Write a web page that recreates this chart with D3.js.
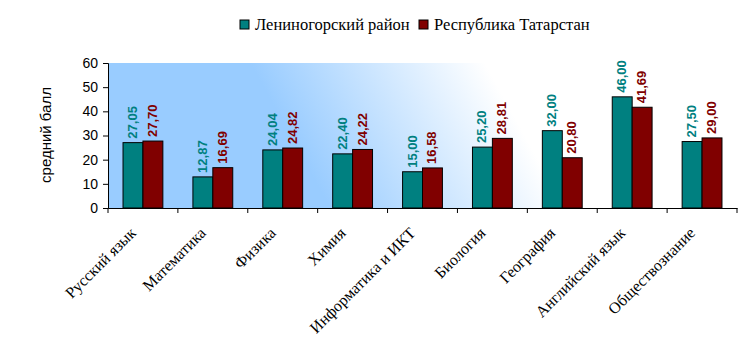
<!DOCTYPE html>
<html><head><meta charset="utf-8">
<script src="https://cdn.jsdelivr.net/npm/d3@7"></script>
<style>body{margin:0;background:#fff}svg{display:block}</style>
</head><body>
<svg id="c" width="747" height="350"></svg>
<script>
const categories = ["Русский язык","Математика","Физика","Химия","Информатика и ИКТ","Биология","География","Английский язык","Обществознание"];
const seriesNames = ["Лениногорский район","Республика Татарстан"];
const district = [27.05,12.87,24.04,22.40,15.00,25.20,32.00,46.00,27.50];
const republic = [27.70,16.69,24.82,24.22,16.58,28.81,20.80,41.69,29.00];
const yTicks = [0,10,20,30,40,50,60];
const colors = ["#008080","#800000"];
const yLabel = "средний балл";

const svg = d3.select("#c");
const L=108,R=737,T=63,B=208;
const x = d3.scaleBand().domain(categories).range([L,R]).padding(0);
const bw = x.bandwidth();
const xs = d3.scaleBand().domain(seriesNames).range([bw*0.215,bw*0.785]);
const y = d3.scaleLinear().domain([0,60]).range([B,T]);

const defs = svg.append("defs");
const g = defs.append("linearGradient").attr("id","bg").attr("gradientUnits","userSpaceOnUse")
  .attr("x1",290).attr("y1",135).attr("x2",470).attr("y2",36);
g.append("stop").attr("offset",0).attr("stop-color","#99ccff");
g.append("stop").attr("offset",1).attr("stop-color","#ffffff");
svg.append("rect").attr("x",L).attr("y",T).attr("width",R-L).attr("height",B-T).attr("fill","url(#bg)");

const data = [];
categories.forEach((c,i)=>{
  data.push({c,s:seriesNames[0],v:district[i],k:0});
  data.push({c,s:seriesNames[1],v:republic[i],k:1});
});

svg.selectAll("rect.bar").data(data).enter().append("rect").attr("class","bar")
  .attr("x",d=>x(d.c)+xs(d.s)).attr("width",xs.bandwidth())
  .attr("y",d=>y(d.v)).attr("height",d=>y(0)-y(d.v))
  .attr("fill",d=>colors[d.k]).attr("stroke","#000").attr("stroke-width",1);

svg.selectAll("text.val").data(data).enter().append("text").attr("class","val")
  .attr("transform",d=>`translate(${x(d.c)+xs(d.s)+xs.bandwidth()/2+4},${y(d.v)-4}) rotate(-90)`)
  .attr("font-family","Liberation Sans, Arial, sans-serif").attr("font-weight","bold").attr("font-size",13)
  .attr("fill",d=>colors[d.k]).text(d=>d.v.toFixed(2).replace(".",","));

// y axis
const ya = svg.append("g").attr("transform",`translate(${L},0)`)
  .call(d3.axisLeft(y).tickValues(yTicks).tickSize(5).tickPadding(5));
ya.select(".domain").attr("stroke","#000");
ya.selectAll("line").attr("stroke","#000");
ya.selectAll("text").attr("font-family","Liberation Sans, Arial, sans-serif").attr("font-size",14).attr("fill","#000");

// x axis
const xa = svg.append("g").attr("transform",`translate(0,${B})`)
  .call(d3.axisBottom(x).tickSize(0).tickFormat(""));
xa.select(".domain").attr("stroke","#000");
const tickPos = categories.map(c=>x(c)).concat([R]);
svg.selectAll("line.xt").data(tickPos).enter().append("line").attr("class","xt")
  .attr("x1",d=>d).attr("x2",d=>d).attr("y1",B).attr("y2",B+5).attr("stroke","#000");

svg.selectAll("text.xl").data(categories).enter().append("text").attr("class","xl")
  .attr("transform",d=>`translate(${x(d)+bw/2-6},${B+26}) rotate(-45)`)
  .attr("text-anchor","end")
  .attr("font-family","Liberation Serif, Times New Roman, serif").attr("font-size",16).attr("fill","#000")
  .text(d=>d);

svg.append("text").attr("transform","translate(51,135) rotate(-90)").attr("text-anchor","middle")
  .attr("font-family","Liberation Sans, Arial, sans-serif").attr("font-size",15).text(yLabel);

// legend
const lg = svg.append("g");
const lx = [240,419];
seriesNames.forEach((s,i)=>{
  lg.append("rect").attr("x",lx[i]).attr("y",20).attr("width",9).attr("height",9)
    .attr("fill",colors[i]).attr("stroke","#000").attr("stroke-width",1);
  lg.append("text").attr("x",lx[i]+15).attr("y",30)
    .attr("font-family","Liberation Serif, Times New Roman, serif").attr("font-size",16.5).text(s);
});
</script>
</body></html>
